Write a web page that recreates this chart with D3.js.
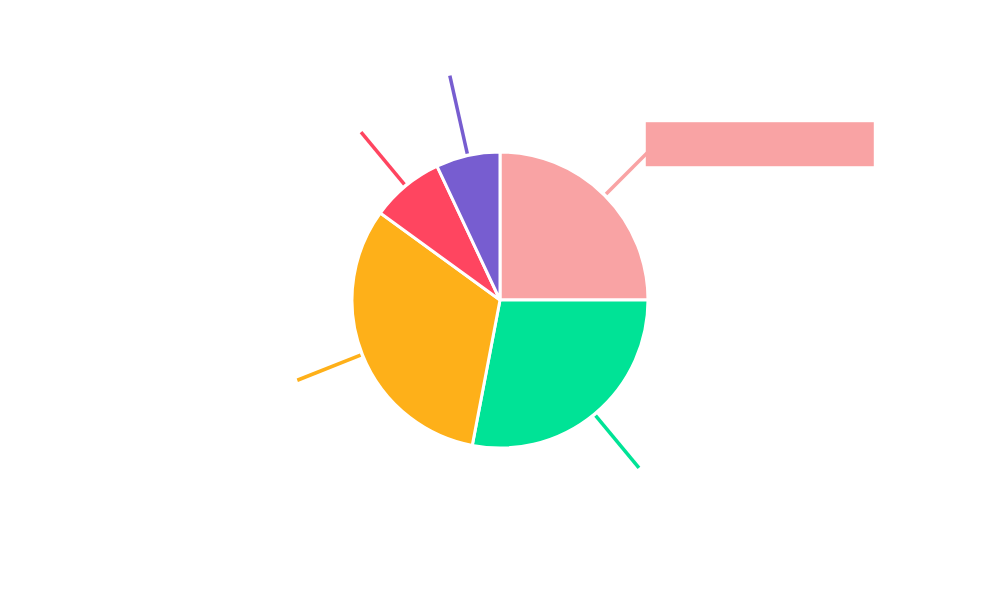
<!DOCTYPE html>
<html>
<head>
<meta charset="utf-8">
<script src="https://cdn.jsdelivr.net/npm/d3@7/dist/d3.min.js"></script>
<style>
  body { margin: 0; background: #fff; }
</style>
</head>
<body>
<div id="container"></div>
<script>
/* CONSTANTS AND GLOBALS */
const width = 1000,
  height = 600,
  cx = 500,
  cy = 300,
  radius = 148;

// DATA
const categories = ["Series 1", "Series 2", "Series 3", "Series 4", "Series 5"];
const values = [25, 28, 32, 8, 7];
const colors = ["#F9A3A4", "#00E396", "#FEB019", "#FF4560", "#775DD0"];

const data = categories.map((c, i) => ({ name: c, value: values[i], color: colors[i] }));

const svg = d3.select("#container")
  .append("svg")
  .attr("width", width)
  .attr("height", height);

const g = svg.append("g").attr("transform", `translate(${cx},${cy})`);

const pie = d3.pie().sort(null).value(d => d.value);
const arcs = pie(data);

const arc = d3.arc().innerRadius(0).outerRadius(radius);

g.selectAll("path.slice")
  .data(arcs)
  .join("path")
  .attr("class", "slice")
  .attr("d", arc)
  .attr("fill", d => d.data.color)
  .attr("stroke", "#fff")
  .attr("stroke-width", 3);

// leader lines (labels hidden, only the first one shows its box)
const lineStart = 150;
const lineEnd = d => d.index === 4 ? 230 : d.index === 0 ? 209 : 218;
const pt = (a, r) => [Math.sin(a) * r, -Math.cos(a) * r];

g.selectAll("line.leader")
  .data(arcs)
  .join("line")
  .attr("class", "leader")
  .attr("x1", d => pt((d.startAngle + d.endAngle) / 2, lineStart)[0])
  .attr("y1", d => pt((d.startAngle + d.endAngle) / 2, lineStart)[1])
  .attr("x2", d => pt((d.startAngle + d.endAngle) / 2, lineEnd(d))[0])
  .attr("y2", d => pt((d.startAngle + d.endAngle) / 2, lineEnd(d))[1])
  .attr("stroke", d => d.data.color)
  .attr("stroke-width", 3.5);

// label box for first slice
const first = arcs[0];
const end = pt((first.startAngle + first.endAngle) / 2, lineEnd(first));
g.append("rect")
  .attr("x", end[0] - 2)
  .attr("y", end[1] - 30)
  .attr("width", 228)
  .attr("height", 44)
  .attr("fill", first.data.color);
</script>
</body>
</html>
